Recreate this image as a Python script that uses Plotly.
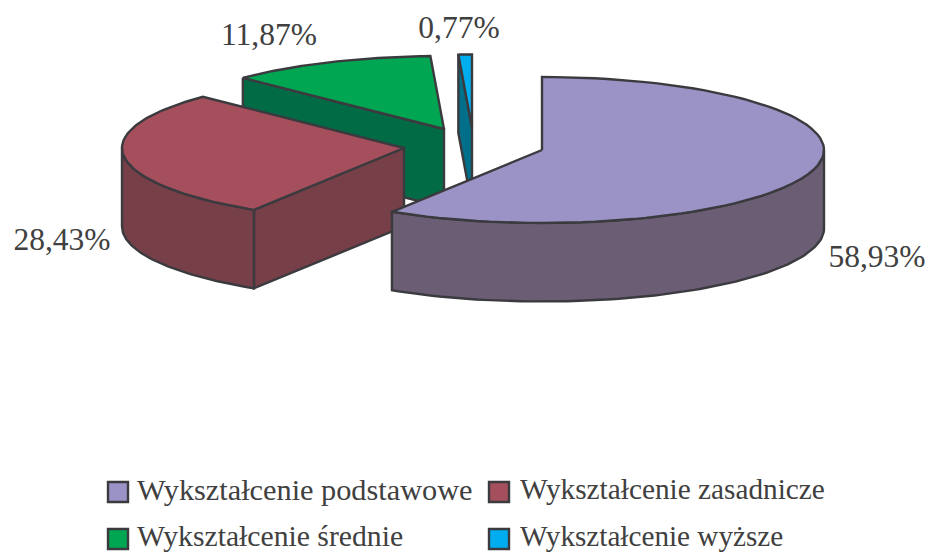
import numpy as np
import plotly.graph_objects as go

categories = ["Wykształcenie podstawowe", "Wykształcenie zasadnicze", "Wykształcenie średnie", "Wykształcenie wyższe"]
values = [58.93, 28.43, 11.87, 0.77]
top_colors = ["#9B93C5", "#A54F5C", "#00A651", "#00AEEF"]
side_colors = ["#6B5D73", "#773F48", "#006B45", "#00708A"]

# layout of the drawing
apexes = [(542, 150), (404, 148), (444, 129), (472, 127.5)]
RX, RY, DEPTH = 282, 73, 78.5
EDGE = "#3A3A3F"
TEXT = "#404040"
FONT = "Liberation Serif"
label_pos = [(877, 259), (62, 242), (269, 37), (459, 30)]
swatch_pos = [(118, 492), (499, 492), (118, 539), (499, 539)]
text_pos = [(137, 492), (520, 492), (137, 539), (520, 539)]
legend_sizes = [30.3, 29.3, 29.7, 29.2]


def rim(cx, cy, a0, a1, n=80):
    t = np.radians(np.linspace(a0, a1, n))
    return cx + RX * np.sin(t), cy - RY * np.cos(t)


def poly(fig, x, y, color):
    fig.add_trace(go.Scatter(
        x=np.append(x, x[0]), y=np.append(y, y[0]), mode="lines", fill="toself",
        fillcolor=color, line=dict(color=EDGE, width=2.4), hoverinfo="skip", showlegend=False,
    ))


fig = go.Figure()
edges = np.concatenate([[0], np.cumsum(values)]) / sum(values) * 360

for i in [3, 2, 1, 0]:
    a0, a1 = edges[i], edges[i + 1]
    cx, cy = apexes[i]
    # radial cut face at the start of the slice (faces the viewer on the left half)
    if a0 > 180:
        sx, sy = rim(cx, cy, a0, a0, 1)
        poly(fig, np.array([sx[0], cx, cx, sx[0]]), np.array([sy[0], cy, cy + DEPTH, sy[0] + DEPTH]), side_colors[i])
    # outer wall, only the front half of the rim
    lo, hi = max(a0, 90), min(a1, 270)
    if hi > lo:
        wx, wy = rim(cx, cy, lo, hi)
        poly(fig, np.concatenate([wx, wx[::-1]]), np.concatenate([wy, wy[::-1] + DEPTH]), side_colors[i])
    # top face
    tx, ty = rim(cx, cy, a0, a1)
    poly(fig, np.concatenate([[cx], tx]), np.concatenate([[cy], ty]), top_colors[i])

# value labels
fig.add_trace(go.Scatter(
    x=[p[0] for p in label_pos], y=[p[1] for p in label_pos], mode="text",
    text=[f"{v:.2f}".replace(".", ",") + "%" for v in values], textposition="middle center",
    textfont=dict(family=FONT, size=31.5, color=TEXT), hoverinfo="skip", showlegend=False,
))

# legend
fig.add_trace(go.Scatter(
    x=[p[0] for p in swatch_pos], y=[p[1] for p in swatch_pos], mode="markers",
    marker=dict(symbol="square", size=20, color=top_colors, line=dict(color=EDGE, width=2.4)),
    hoverinfo="skip", showlegend=False,
))
fig.add_trace(go.Scatter(
    x=[p[0] for p in text_pos], y=[p[1] for p in text_pos], mode="text",
    text=categories, textposition="middle right",
    textfont=dict(family=FONT, size=legend_sizes, color=TEXT), hoverinfo="skip", showlegend=False,
))

fig.update_layout(
    width=930, height=554, margin=dict(l=0, r=0, t=0, b=0),
    paper_bgcolor="white", plot_bgcolor="white",
    xaxis=dict(range=[0, 930], visible=False, fixedrange=True),
    yaxis=dict(range=[554, 0], visible=False, fixedrange=True),
)
fig.write_html(
    "out.html", config={"displayModeBar": False},
    post_script="document.body.style.margin='0';document.body.style.overflow='hidden';",
)
